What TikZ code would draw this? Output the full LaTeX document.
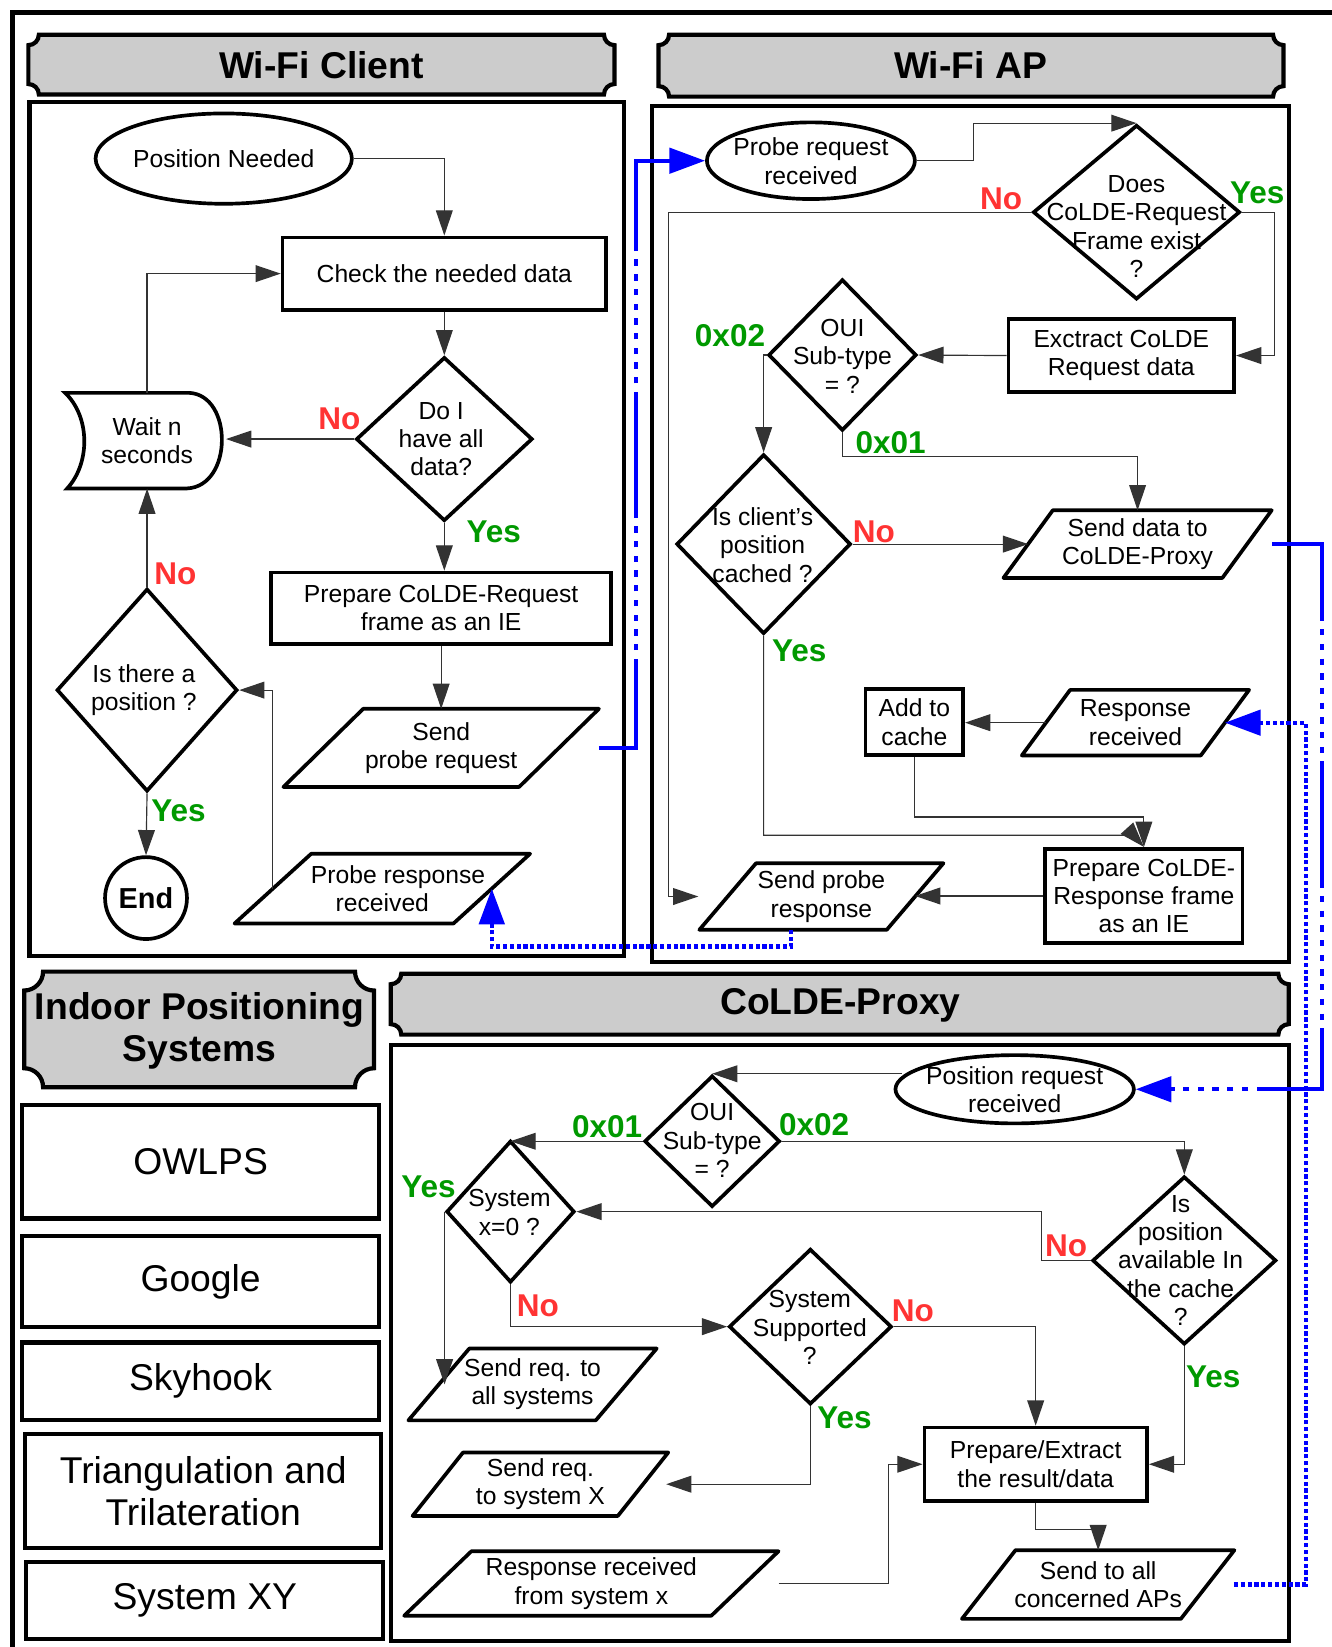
\documentclass[tikz,border=0pt]{standalone}
\usepackage{fontspec}
\setmainfont{Liberation Sans}
\usetikzlibrary{shapes.geometric,arrows.meta,calc}
\definecolor{nored}{RGB}{255,51,51}
\definecolor{yesgreen}{RGB}{0,153,0}
\definecolor{hdrgray}{RGB}{204,204,204}
\definecolor{linkblue}{RGB}{0,0,255}
\tikzset{
 bodytext/.style={align=center,font=\fontsize{23.5}{27}\selectfont,inner sep=0pt},
 shp/.style={draw=black,line width=3.5pt},
 frame/.style={draw=black,line width=4pt},
 plaq/.style={draw=black,fill=hdrgray,line width=4pt},
 hdr/.style={align=center,font=\bfseries\fontsize{35.5}{40}\selectfont,inner sep=0pt},
 rectbox/.style 2 args={shp,rectangle,minimum width=#1pt,minimum height=#2pt,inner sep=1pt,align=center,font=\fontsize{23.5}{27}\selectfont},
 ipsbox/.style 2 args={draw=black,line width=4pt,rectangle,minimum width=#1pt,minimum height=#2pt,inner sep=1pt,align=center,font=\fontsize{35.5}{40}\selectfont},
 dia/.style 2 args={shp,diamond,inner sep=0pt,minimum width=#1pt,minimum height=#2pt},
 ell/.style 2 args={shp,ellipse,inner sep=0pt,minimum width=#1pt,minimum height=#2pt},
 paranode/.style 2 args={rectangle,inner sep=0pt,minimum width=#1pt,minimum height=#2pt,align=center,font=\fontsize{23.5}{27}\selectfont},
 conn/.style={draw=black!80,line width=1.1pt,-{Triangle[length=24pt,width=16pt]}},
 bluedash/.style={draw=linkblue,line width=4pt,dash pattern=on 120pt off 8pt on 6pt off 8pt on 6pt off 8pt on 6pt off 8pt on 6pt off 8pt on 6pt off 8pt on 6pt off 8pt on 6pt off 8pt on 6pt off 8pt on 6pt off 8pt,-{Triangle[length=34pt,width=24pt]}},
 bluedot/.style={draw=linkblue,line width=4pt,dash pattern=on 4pt off 2.5pt,-{Triangle[length=34pt,width=24pt]}},
 nolab/.style={text=nored,font=\bfseries\fontsize{30}{32}\selectfont,inner sep=0pt},
 yeslab/.style={text=yesgreen,font=\bfseries\fontsize{30}{32}\selectfont,inner sep=0pt},
}
\newcommand\plaquebox[5]{\draw[plaq] ({#1+#5},#2) -- ({#3-#5},#2) .. controls ({#3-#5},{#2+0.55*#5}) and ({#3-0.55*#5},{#2+#5}) .. (#3,{#2+#5}) -- (#3,{#4-#5}) .. controls ({#3-0.55*#5},{#4-#5}) and ({#3-#5},{#4-0.55*#5}) .. ({#3-#5},#4) -- ({#1+#5},#4) .. controls ({#1+#5},{#4-0.55*#5}) and ({#1+0.55*#5},{#4-#5}) .. (#1,{#4-#5}) -- (#1,{#2+#5}) .. controls ({#1+0.55*#5},{#2+#5}) and ({#1+#5},{#2+0.55*#5}) .. cycle;}
\newcommand\drawpara[2]{\draw[shp,line join=round] ([xshift={0.5*#2pt}]#1.north west) -- ([xshift={0.5*#2pt}]#1.north east) -- ([xshift={-0.5*#2pt}]#1.south east) -- ([xshift={-0.5*#2pt}]#1.south west) -- cycle;}
\begin{document}
\begin{tikzpicture}[x=1pt,y=-1pt]
\useasboundingbox (0,0) rectangle (1268,1568);
\fill[white] (0,0) rectangle (1268,1568);
\draw[line width=4.5pt] (12,1568) -- (12,12) -- (1268,12);

% headers
\plaquebox{27}{33}{585}{90}{10}
\node[hdr] (hclient) at (306,62) {Wi-Fi Client};
\plaquebox{627}{33}{1222}{92}{10}
\node[hdr] (hap) at (924,62) {Wi-Fi AP};
\plaquebox{23}{925}{356}{1035}{18}
\node[hdr] (hips) at (190,981) {Indoor Positioning\\Systems};
\plaquebox{372}{927}{1227}{985}{10}
\node[hdr] (hproxy) at (800,957) {CoLDE-Proxy};

% frames
\draw[frame] (28,97) rectangle (594,910);
\draw[frame] (621,101) rectangle (1227,916);
\draw[frame] (372,995) rectangle (1227,1562);

% ---------- Wi-Fi Client ----------
\node[ell={244}{86}] (posneed) at (213,151) {};
\node[bodytext] (posneedt) at (213,151) {Position Needed};
\node[rectbox={308}{69}] (check) at (423,260.5) {Check the needed data};
\node[dia={168}{156}] (d1) at (423,418) {};
\node[bodytext] (d1t) at (420,418) {Do I\\have all\\data?};
\draw[shp] (62,374) -- (180,374) .. controls (222,376) and (222,463) .. (178,465) -- (64,465) .. controls (86,441) and (86,397) .. cycle;
\node[bodytext,minimum width=150pt,minimum height=91pt] (wait) at (140,419.5) {Wait n\\seconds};
\node[rectbox={324}{68}] (prepreq) at (420,579) {Prepare CoLDE-Request\\frame as an IE};
\node[paranode={224}{74}] (sendreq) at (420,712) {Send\\probe request};
\drawpara{sendreq}{76}
\node[dia={172}{193}] (d2) at (140,657) {};
\node[bodytext] (d2t) at (137,657) {Is there a\\position ?};
\node[circle,shp,minimum size=78pt,inner sep=0pt,font=\bfseries\fontsize{27.5}{30}\selectfont] (endn) at (139,855) {End};
\node[paranode={208}{66}] (proberesp) at (364,846) {\hspace*{30pt}Probe response\\received};
\drawpara{proberesp}{73}

\draw[conn] (posneed.east) -| (check.north);
\draw[conn] (check.south) -- (d1.north);
\draw[conn] (d1.west) -- (d1.west -| wait.east);
\draw[conn] (wait.north) |- (check.west);
\draw[conn] (d2.north) -- (d2.north |- wait.south);
\draw[conn] (d2.south) -- (endn.north);
\draw[conn] (d1.south) -- (d1.south |- prepreq.north);
\draw[conn] (prepreq.south) -- (prepreq.south |- sendreq.north);
\draw[conn] (proberesp.west) |- (d2.east);

\node[nolab] (n1) at (323,399) {No};
\node[yeslab] (y1) at (470,506) {Yes};
\node[nolab] (n2) at (167,546) {No};
\node[yeslab] (y2) at (170,772) {Yes};

% ---------- Wi-Fi AP ----------
\node[ell={198}{73}] (probereq) at (772,153) {};
\node[bodytext] (probereqt) at (772,153.5) {Probe request\\received};
\node[dia={197}{166}] (does) at (1082,202) {};
\node[bodytext] (doest) at (1082,215.5) {Does\\CoLDE-Request\\Frame exist\\?};
\node[rectbox={215}{69}] (extract) at (1067.5,338.5) {Exctract CoLDE\\Request data};
\node[dia={141}{144}] (oui1) at (802,338) {};
\node[bodytext] (oui1t) at (802,339) {OUI\\Sub-type\\= ?};
\node[dia={166}{171}] (client) at (727,518) {};
\node[bodytext] (clientt) at (726,519) {Is client's\\position\\cached ?};
\node[paranode={208}{64}] (senddata) at (1083,518) {Send data to\\CoLDE-Proxy};
\drawpara{senddata}{47}
\node[paranode={170}{62}] (respr) at (1081,688) {Response\\received};
\drawpara{respr}{46}
\node[rectbox={93}{63}] (addcache) at (870.5,687.5) {Add to\\cache};
\node[rectbox={188}{90}] (prepresp) at (1089,853) {Prepare CoLDE-\\Response frame\\as an IE};
\node[paranode={178}{63}] (sendresp) at (782,853.5) {Send probe\\response};
\drawpara{sendresp}{54}

\draw[conn] (probereq.east) -| ([xshift=-155pt]does.north) -- (does.north);
\draw[conn] (does.west) -| ([xshift=-56pt]sendresp.west) -- ([xshift=-28pt]sendresp.west);
\draw[conn] (does.east) -| ([xshift=37pt]extract.east) -- (extract.east);
\draw[conn] (extract.west) -- (oui1.east);
\draw[conn] (oui1.west) -| (client.north);
\draw[conn] (oui1.south) -- ++(0,23) -| (senddata.north);
\draw[conn] (client.east) -- (client.east -| senddata.west);
\draw[conn] (client.south) |- ([xshift=-10pt,yshift=11pt]prepresp.north) -- (prepresp.north);
\draw[conn] (respr.west) -- (respr.west -| addcache.east);
\draw[conn] (addcache.south) -- ++(0,57) -| (prepresp.north);
\draw[conn] (prepresp.west) -- (prepresp.west -| sendresp.east);

\node[nolab] (n3) at (953,189) {No};
\node[yeslab] (y3) at (1197,184) {Yes};
\node[yeslab] (h1) at (695,320) {0x02};
\node[yeslab] (h2) at (848,421) {0x01};
\node[nolab] (n4) at (832,506) {No};
\node[yeslab] (y4) at (761,620) {Yes};

% ---------- Indoor Positioning Systems ----------
\node[ipsbox={340}{108}] (owlps) at (191,1106) {OWLPS};
\node[ipsbox={340}{86}] (google) at (191,1220) {Google};
\node[ipsbox={340}{74}] (skyhook) at (191,1315) {Skyhook};
\node[ipsbox={339}{109}] (trian) at (193.5,1419.5) {Triangulation and\\Trilateration};
\node[ipsbox={340}{73}] (sysxy) at (195,1523.5) {System XY};

% ---------- CoLDE-Proxy ----------
\node[ell={227}{65}] (posreq) at (966,1037) {};
\node[bodytext] (posreqt) at (966,1037.5) {Position request\\received};
\node[dia={129}{125}] (oui2) at (678,1086.5) {};
\node[bodytext] (oui2t) at (678,1086) {OUI\\Sub-type\\= ?};
\node[dia={122}{135}] (sysx) at (486,1153.5) {};
\node[bodytext] (sysxt) at (485,1154.5) {System\\x=0 ?};
\node[dia={175}{160}] (avail) at (1127.5,1200) {};
\node[bodytext] (availt) at (1124,1200) {Is\\position\\available In\\the cache\\?};
\node[dia={155}{148}] (syssup) at (771.5,1263) {};
\node[bodytext] (syssupt) at (771,1264) {System\\Supported\\?};
\node[rectbox={212}{70}] (prepx) at (986,1394) {Prepare/Extract\\the result/data};
\node[paranode={178}{68}] (sendallsys) at (507,1318) {Send req. to\\all systems};
\drawpara{sendallsys}{58}
\node[paranode={195}{60}] (sendsysx) at (514.5,1413) {Send req.\\to system X};
\drawpara{sendsysx}{48}
\node[paranode={292}{61}] (resprx) at (563,1507.5) {Response received\\from system x};
\drawpara{resprx}{64}
\node[paranode={208}{65}] (sendall) at (1045.5,1508.5) {Send to all\\concerned APs};
\drawpara{sendall}{51}

\draw[conn] ($(posreq.west |- oui2.north)+(8,0)$) -- (oui2.north);
\draw[conn] (oui2.west) -- (oui2.west -| sysx.north);
\draw[conn] (oui2.east) -| (avail.north);
\draw[conn] (avail.west) -- ++(-47,0) |- (sysx.east);
\draw[conn] (avail.south) |- (prepx.east);
\draw[conn] (sysx.west) -- (sysx.west |- sendallsys.west);
\draw[conn] (sysx.south) |- (syssup.west);
\draw[conn] (syssup.east) -| (prepx.north);
\draw[conn] (syssup.south) |- ([xshift=22pt]sendsysx.east);
\draw[conn] ([xshift=32pt]resprx.east) -| ([xshift=-32pt]prepx.west) -- (prepx.west);
\draw[conn] (prepx.south) -- ++(0,25) -| (sendall.north);

\node[yeslab] (h3) at (578,1073) {0x01};
\node[yeslab] (h4) at (775,1071) {0x02};
\node[yeslab] (y5) at (408,1130) {Yes};
\node[nolab] (n5) at (1015,1186) {No};
\node[nolab] (n6) at (512,1243) {No};
\node[nolab] (n7) at (869,1248) {No};
\node[yeslab] (y6) at (1155,1311) {Yes};
\node[yeslab] (y7) at (804,1350) {Yes};

% ---------- blue inter-entity links ----------
\draw[bluedash] ([xshift=38pt]sendreq.east) -| ([xshift=-66pt]probereq.west) -- (probereq.west);
\draw[bluedot] ([xshift=-29pt]sendresp.south) |- ([yshift=-55pt]proberesp.east) -- (proberesp.east);
\draw[bluedash] ([xshift=24pt]senddata.east) -| ([xshift=177pt]posreq.east) -- (posreq.east);
\draw[bluedot] ([xshift=25pt]sendall.east) -| ([xshift=77pt]respr.east) -- (respr.east);
\end{tikzpicture}
\end{document}
